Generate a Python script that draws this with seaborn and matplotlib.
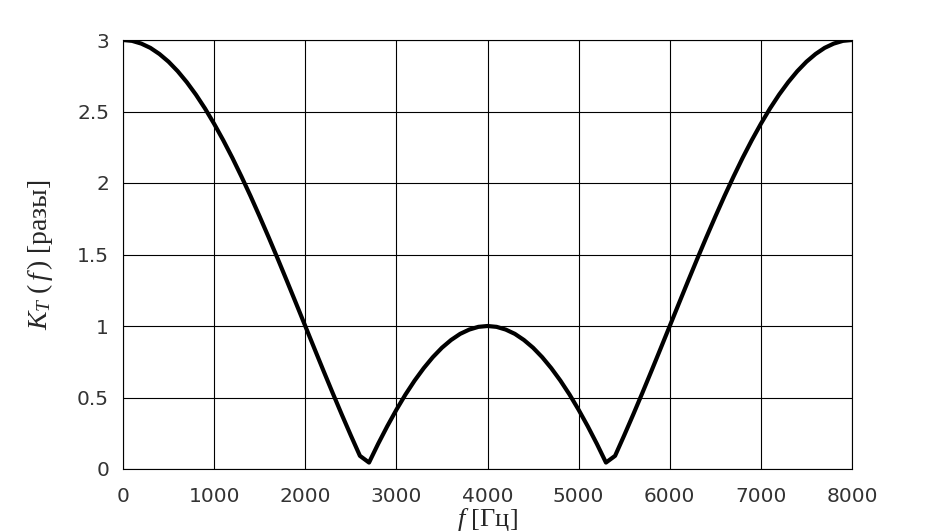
import matplotlib
matplotlib.use("Agg")
import matplotlib.pyplot as plt
import seaborn as sns
import pandas as pd

freq_hz = [0, 100, 200, 300, 400, 500, 600, 700, 800, 900,
           1000, 1100, 1200, 1300, 1400, 1500, 1600, 1700, 1800, 1900,
           2000, 2100, 2200, 2300, 2400, 2500, 2600, 2700, 2800, 2900,
           3000, 3100, 3200, 3300, 3400, 3500, 3600, 3700, 3800, 3900,
           4000, 4100, 4200, 4300, 4400, 4500, 4600, 4700, 4800, 4900,
           5000, 5100, 5200, 5300, 5400, 5500, 5600, 5700, 5800, 5900,
           6000, 6100, 6200, 6300, 6400, 6500, 6600, 6700, 6800, 6900,
           7000, 7100, 7200, 7300, 7400, 7500, 7600, 7700, 7800, 7900, 8000]
k_t = [3.0, 2.994, 2.975, 2.945, 2.902, 2.848, 2.782, 2.705, 2.618, 2.521,
       2.414, 2.299, 2.176, 2.045, 1.908, 1.765, 1.618, 1.467, 1.313, 1.157,
       1.0, 0.843, 0.687, 0.533, 0.382, 0.235, 0.092, 0.045, 0.176, 0.299,
       0.414, 0.521, 0.618, 0.705, 0.782, 0.848, 0.902, 0.945, 0.975, 0.994,
       1.0, 0.994, 0.975, 0.945, 0.902, 0.848, 0.782, 0.705, 0.618, 0.521,
       0.414, 0.299, 0.176, 0.045, 0.092, 0.235, 0.382, 0.533, 0.687, 0.843,
       1.0, 1.157, 1.313, 1.467, 1.618, 1.765, 1.908, 2.045, 2.176, 2.299,
       2.414, 2.521, 2.618, 2.705, 2.782, 2.848, 2.902, 2.945, 2.975, 2.994, 3.0]
x_ticks = [0, 1000, 2000, 3000, 4000, 5000, 6000, 7000, 8000]
y_ticks = [0, 0.5, 1, 1.5, 2, 2.5, 3]
y_tick_labels = ["0", "0.5", "1", "1.5", "2", "2.5", "3"]

sns.set_style("white")
plt.rcParams["font.family"] = ["DejaVu Sans"]
plt.rcParams["mathtext.fontset"] = "custom"
plt.rcParams["mathtext.rm"] = "Liberation Serif"
plt.rcParams["mathtext.it"] = "Liberation Serif:italic"

df = pd.DataFrame({"f": freq_hz, "k": k_t})

fig = plt.figure(figsize=(9.4, 5.32), dpi=100)
ax = fig.add_axes([123/940, 1-469/532, (852-123)/940, (469-40)/532])
sns.lineplot(data=df, x="f", y="k", ax=ax, color="black", linewidth=3.0)

ax.set_xlim(0, 8000)
ax.set_ylim(0, 3)
ax.set_xticks(x_ticks)
ax.set_xticklabels([str(v) for v in x_ticks])
ax.set_yticks(y_ticks)
ax.set_yticklabels(y_tick_labels)
ax.tick_params(axis="both", length=0, labelsize=14.5, colors="#333333")
ax.tick_params(axis="x", pad=13)
ax.tick_params(axis="y", pad=10)
ax.grid(True, color="black", linewidth=0.8)
for s in ax.spines.values():
    s.set_color("black")
    s.set_linewidth(0.8)

ax.set_xlabel(r"$f$ [Гц]", fontfamily="Liberation Serif", fontsize=19, labelpad=0)
ax.set_ylabel(r"$K_T\ (\,f\,)\ $[разы]", fontfamily="Liberation Serif", fontsize=20, labelpad=16)

fig.savefig("out.png", dpi=100)
